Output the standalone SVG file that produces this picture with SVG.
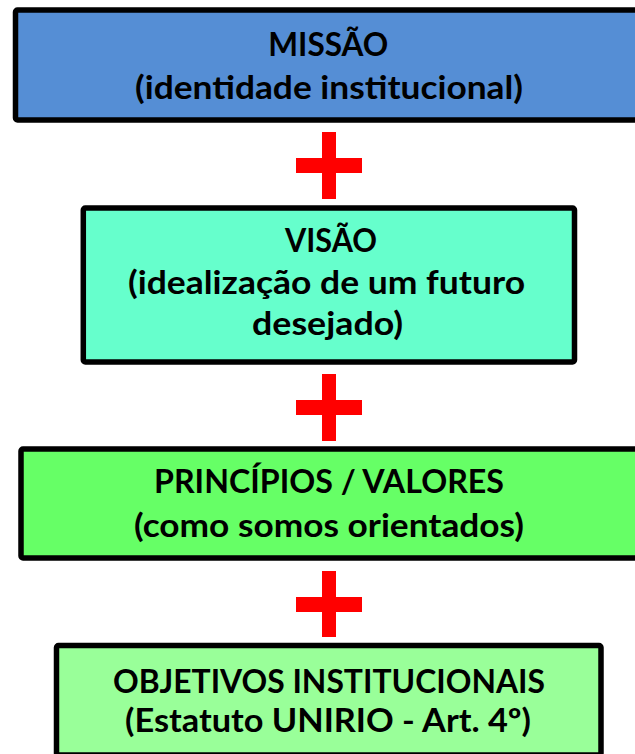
<svg xmlns="http://www.w3.org/2000/svg" width="635" height="754" viewBox="0 0 635 754">
<style>
.box{stroke:#000;stroke-width:5.5}
.t{font-family:Lato,"Liberation Sans",sans-serif;font-weight:bold;font-size:33px;fill:#000;text-anchor:middle}
.plus{fill:#FF0000}
</style>
<rect width="635" height="754" fill="#fff"/>
<g id="missao">
<rect class="box" x="15.5" y="10" width="640" height="110" rx="2" fill="#558ED5"/>
<text class="t" x="328.3" y="55.7" textLength="120" lengthAdjust="spacingAndGlyphs">MISSÃO</text>
<text class="t" x="329" y="99" textLength="388" lengthAdjust="spacingAndGlyphs">(identidade institucional)</text>
</g>
<g id="visao">
<rect class="box" x="83.3" y="208" width="491.2" height="154" rx="2" fill="#66FFCC"/>
<text class="t" x="331" y="252.3" textLength="92" lengthAdjust="spacingAndGlyphs">VISÃO</text>
<text class="t" x="326.5" y="293.5" textLength="397" lengthAdjust="spacingAndGlyphs">(idealização de um futuro</text>
<text class="t" x="327.5" y="335" textLength="151" lengthAdjust="spacingAndGlyphs">desejado)</text>
</g>
<g id="principios">
<rect class="box" x="21" y="449" width="640" height="109" rx="2" fill="#66FF66"/>
<text class="t" x="329" y="493.3" textLength="350" lengthAdjust="spacingAndGlyphs">PRINCÍPIOS / VALORES</text>
<text class="t" x="329" y="536.7" textLength="390" lengthAdjust="spacingAndGlyphs">(como somos orientados)</text>
</g>
<g id="objetivos">
<rect class="box" x="56.5" y="645.5" width="544.5" height="109.5" rx="2" fill="#99FF99"/>
<text class="t" x="329" y="692.7" textLength="432" lengthAdjust="spacingAndGlyphs">OBJETIVOS INSTITUCIONAIS</text>
<text class="t" x="328" y="731.7" textLength="406" lengthAdjust="spacingAndGlyphs">(Estatuto UNIRIO - Art. 4º)</text>
</g>
<g id="connectors">
<path class="plus" d="M322 132h14v26h26v15h-26v26h-14v-26h-26v-15h26z"/>
<path class="plus" d="M322 374h14v26h26v15h-26v26h-14v-26h-26v-15h26z"/>
<path class="plus" d="M322 571h14v26h26v15h-26v25h-14v-25h-26v-15h26z"/>
</g>
</svg>
